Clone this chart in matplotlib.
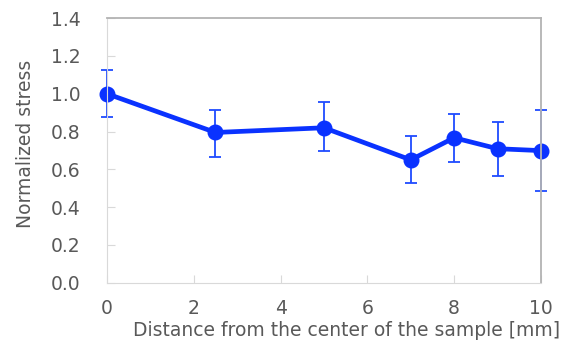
import matplotlib.pyplot as plt

plt.rcParams['font.family'] = ['DejaVu Sans']

# distancia desde el centro [mm], tension normalizada y su error
distance = [0, 2.5, 5, 7, 8, 9, 10]
stress = [1.00, 0.795, 0.82, 0.65, 0.767, 0.709, 0.699]
err_up = [0.125, 0.12, 0.135, 0.127, 0.127, 0.144, 0.216]
err_down = [0.122, 0.128, 0.124, 0.125, 0.128, 0.143, 0.216]

fig = plt.figure(figsize=(5.65, 3.47), dpi=100)
ax = fig.add_axes([0.1894, 0.1855, 0.768, 0.762])

lineas = ax.errorbar(distance, stress, yerr=[err_down, err_up], color='#0a32ff',
                     lw=3.4, marker='o', ms=10.5, ecolor='#1f4bff', elinewidth=1.3,
                     capsize=4.5, capthick=1.3)
for art in lineas.lines[1] + lineas.lines[2] + (lineas.lines[0],):
    art.set_clip_on(False)

ax.set_xlim(0, 10)
ax.set_ylim(0, 1.4)
ax.set_xticks([0, 2, 4, 6, 8, 10])
ax.set_yticks([0, 0.2, 0.4, 0.6, 0.8, 1.0, 1.2, 1.4])
ax.set_yticklabels(['%.1f' % v for v in ax.get_yticks()])

gris = '#595959'
ax.tick_params(direction='in', length=6, width=0.8, color='#d9d9d9',
               labelcolor=gris, labelsize=13.5)
ax.tick_params(axis='y', pad=19)
ax.tick_params(axis='x', pad=12)

for s in ['left', 'bottom']:
    ax.spines[s].set_color('#d9d9d9')
for s in ['top', 'right']:
    ax.spines[s].set_color('#b3b3b3')
    ax.spines[s].set_linewidth(1.3)

ax.set_xlabel('Distance from the center of the sample [mm]', color=gris, fontsize=13.5)
ax.xaxis.set_label_coords(0.553, -0.145)
ax.xaxis.label.set_va('top')
ax.set_ylabel('Normalized stress', color=gris, fontsize=13.5)
ax.yaxis.set_label_coords(-0.165, 0.525)

plt.savefig('out.png', dpi=100)
